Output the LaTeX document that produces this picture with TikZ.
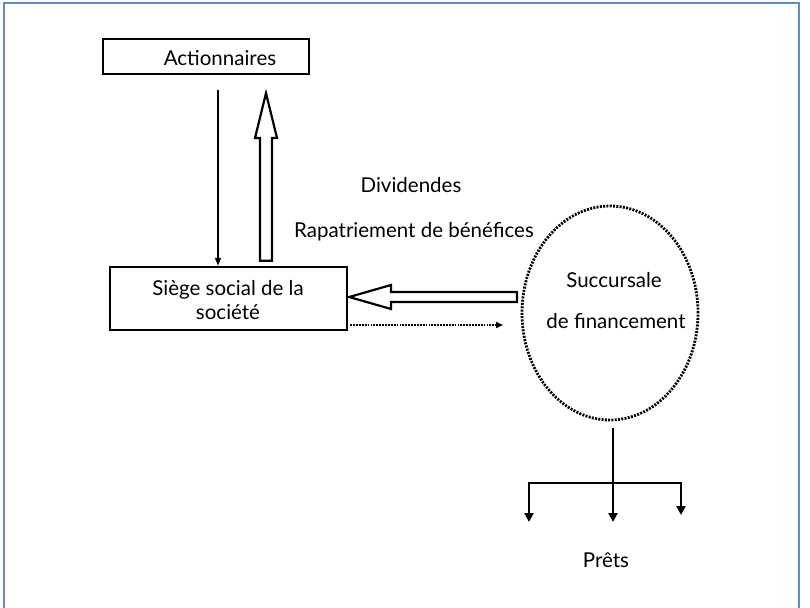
\documentclass[tikz,border=0pt]{standalone}
\usepackage{fontspec}
\setmainfont{Lato}
\usetikzlibrary{arrows.meta,calc,shapes.geometric}
\definecolor{framecol}{RGB}{95,140,205}
\begin{document}
\begin{tikzpicture}[x=1pt,y=-1pt,
  every node/.style={font=\fontsize{20.5}{24}\selectfont, inner sep=0pt},
  boxnode/.style={draw, line width=2.4pt, fill=white},
  hollow/.style={draw, line width=2.2pt, fill=white, line join=miter},
  thinarrow/.style={line width=1.4pt, -{Triangle[width=6pt,length=8pt]}},
  branch/.style={line width=2.6pt},
  brancharrow/.style={line width=2.6pt, -{Triangle[width=9pt,length=9pt]}},
  dotline/.style={line width=1.8pt, dash pattern=on 1.8pt off 1.1pt, -{Triangle[width=6pt,length=7pt]}},
  dotring/.style={draw, line width=2.8pt, dash pattern=on 2pt off 1.3pt}]
\useasboundingbox (0,0) rectangle (810,607);
% outer frame, open at the bottom
\draw[framecol, line width=1.6pt] (4,612) -- (4,3) -- (799,3) -- (799,612);

% boxes
\node[boxnode, minimum width=206pt, minimum height=35pt] (act) at (206,56.5) {};
\node (acttxt) at (220,58) {Actionnaires};
\node[boxnode, minimum width=237pt, minimum height=63pt] (siege) at (228.5,298.5) {};
\node[align=center] (siegetxt) at (228,300) {Siège social de la\\société};

% branch ellipse
\node[dotring, ellipse, minimum width=176pt, minimum height=214pt] (succ) at (610,313) {};
\node (succ1) at (614,280) {Succursale};
\node (succ2) at (616,321) {de financement};

% labels
\node (div) at (411,185) {Dividendes};
\node (rapat) at (414,232) {Rapatriement de bénéfices};
\node (prets) at (606,560) {Prêts};

% thin arrow: shareholders -> head office
\draw[thinarrow] ($(act.south -| 218,0)+(0,15)$) -- (siege.north -| 218,0);

% hollow arrow up: head office -> shareholders
\coordinate (upB) at ($(siege.north -| 266,0)+(0,-5)$);
\coordinate (upT) at ($(act.south -| 266,0)+(0,18)$);
\draw[hollow] ($(upB)+(-6,0)$) -- (260,138) -- (255,138) -- (upT) -- (277,138) -- (272,138) -- ($(upB)+(6,0)$) -- cycle;

% hollow arrow left: branch -> head office
\coordinate (lfT) at ($(siege.east |- 0,297)+(1,0)$);
\coordinate (lfB) at (517,297);
\draw[hollow] ($(lfB)+(0,-5)$) -- (391,292) -- (391,285) -- (lfT) -- (391,309) -- (391,302) -- ($(lfB)+(0,5)$) -- cycle;

% dotted arrow: head office -> branch
\draw[dotline] ($(siege.east |- 0,325)+(2,0)$) -- (503,325);

% loans
\coordinate (brTop) at ($(succ.south -| 613,0)+(0,7)$);
\coordinate (brMid) at (613,483);
\coordinate (brL) at (529,483);
\coordinate (brR) at (681,483);
\draw[branch] (brTop) -- (brMid);
\draw[branch] ($(brL)+(-1.3,0)$) -- ($(brR)+(1.3,0)$);
\draw[brancharrow] (brL) -- (529,522);
\draw[brancharrow] (brMid) -- (613,522);
\draw[brancharrow] (brR) -- (681,515);
\end{tikzpicture}
\end{document}
